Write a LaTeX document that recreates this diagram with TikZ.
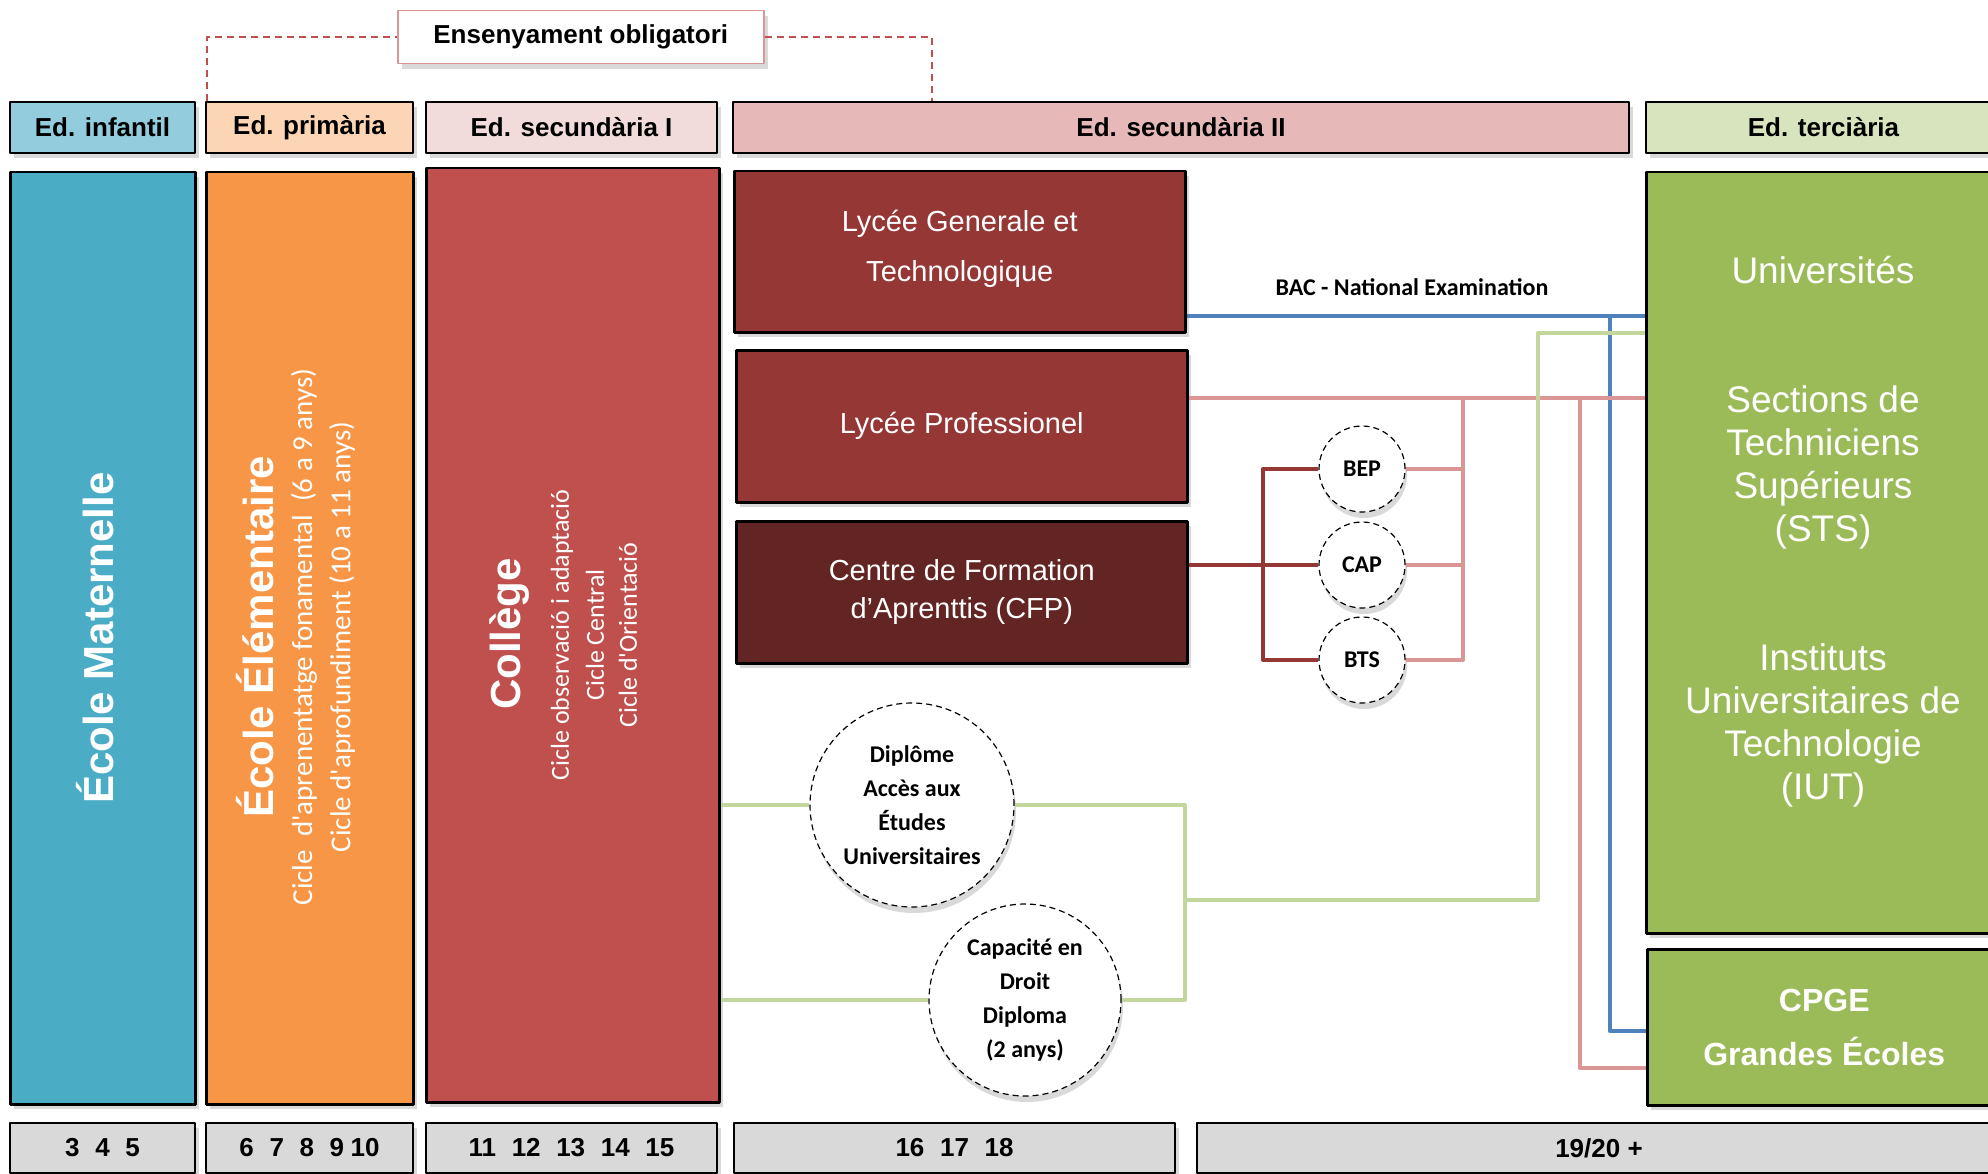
\documentclass[tikz,border=0pt]{standalone}
\usepackage{fontspec}
\setmainfont{Liberation Sans}
\newfontfamily\calibri{Carlito}
\usetikzlibrary{shadows}
\definecolor{infantA}{HTML}{93CDDD}
\definecolor{infantB}{HTML}{4BACC6}
\definecolor{primA}{HTML}{FCD5B5}
\definecolor{primB}{HTML}{F79646}
\definecolor{secA}{HTML}{F2DCDB}
\definecolor{secB}{HTML}{C0504D}
\definecolor{secIIA}{HTML}{E6B9B8}
\definecolor{secIIB}{HTML}{953735}
\definecolor{secIIC}{HTML}{632523}
\definecolor{tercA}{HTML}{D7E4BD}
\definecolor{tercB}{HTML}{9BBB59}
\definecolor{ageC}{HTML}{D9D9D9}
\definecolor{bacC}{HTML}{4F81BD}
\definecolor{proC}{HTML}{D99694}
\definecolor{accC}{HTML}{C3D69B}
\begin{document}
\begin{tikzpicture}[x=1pt,y=-1pt,line join=round,
	blk/.style={draw=black,line width=2.5pt,anchor=north west,inner sep=0pt,drop shadow={shadow xshift=4pt,shadow yshift=-5pt,opacity=.3}},
	hd/.style={blk,line width=2pt,minimum height=51pt,font=\fontsize{26}{30}\selectfont\bfseries},
	age/.style={hd,fill=ageC,minimum height=50pt},
	wt/.style={text=white,align=center,inner sep=0pt},
	vt/.style={wt,rotate=90},
	big/.style={vt,font=\fontsize{42}{48}\selectfont\bfseries},
	sub/.style={vt,font=\calibri\fontsize{29}{34}\selectfont},
	circ/.style={circle,draw=black,fill=white,line width=1.2pt,dash pattern=on 6pt off 4pt,inner sep=0pt,align=center,font=\calibri\bfseries\fontsize{24}{34}\selectfont,drop shadow={shadow xshift=2pt,shadow yshift=-6pt,opacity=.3}},
	ln/.style={line width=4pt}]
	\useasboundingbox (0,0) rectangle (1988,1174);
	\def\gp{\hspace{.6em}}
	\node[blk,draw=proC,line width=1.5pt,fill=white,minimum width=366pt,minimum height=53pt,font=\fontsize{26}{30}\selectfont\bfseries] (oblig) at (397,10) {Ensenyament obligatori};
	\node[hd,fill=infantA,minimum width=185pt] (hinf) at (9,101) {Ed. infantil};
	\node[hd,fill=primA,minimum width=207pt] (hprim) at (205,101) {Ed. primària};
	\node[hd,fill=secA,minimum width=291pt] (hsec1) at (425,101) {Ed. secundària I};
	\node[hd,fill=secIIA,minimum width=896pt] (hsec2) at (732,101) {Ed. secundària II};
	\node[hd,fill=tercA,minimum width=355pt] (hterc) at (1645,101) {Ed. terciària};
	\node[blk,fill=infantB,minimum width=185pt,minimum height=932pt] (mat) at (9,171) {};
	\node[blk,fill=primB,minimum width=207pt,minimum height=932pt] (elem) at (205,171) {};
	\node[blk,fill=secB,minimum width=293pt,minimum height=934pt] (college) at (425,167) {};
	\node[blk,fill=secIIB,minimum width=451pt,minimum height=161pt,wt,font=\fontsize{29}{50}\selectfont] (lgt) at (733,170) {Lycée Generale et\\Technologique\\[-38pt]};
	\node[blk,fill=secIIB,minimum width=451pt,minimum height=152pt,wt,font=\fontsize{29}{38}\selectfont] (lpro) at (735,349) {Lycée Professionel};
	\node[blk,fill=secIIC,minimum width=451pt,minimum height=142pt,wt,font=\fontsize{29}{38}\selectfont] (cfp) at (735,520) {Centre de Formation\\d’Aprenttis (CFP)};
	\node[blk,fill=tercB,minimum width=355pt,minimum height=761pt] (terc) at (1645,171) {};
	\node[blk,fill=tercB,minimum width=354pt,minimum height=156pt,wt,font=\fontsize{32}{54}\selectfont\bfseries] (cpge) at (1646,948) {CPGE\\Grandes Écoles};
	\node[big] (tmat) at (95,638) {École Maternelle};
	\node[big] (telem) at (255,637) {École Élémentaire};
	\node[sub] (telem1) at (304,637) {Cicle\ \ d'aprenentatge fonamental\ \ (6 a 9 anys)};
	\node[sub] (telem2) at (342,637) {Cicle d'aprofundiment (10 a 11 anys)};
	\node[big] (tcol) at (510,634) {Collège};
	\node[sub,font=\calibri\fontsize{26}{30}\selectfont] (tcol1) at (562,635) {Cicle observació i adaptació};
	\node[sub,font=\calibri\fontsize{26}{30}\selectfont] (tcol2) at (595,635) {Cicle Central};
	\node[sub,font=\calibri\fontsize{26}{30}\selectfont] (tcol3) at (628,635) {Cicle d'Orientació};
	\node[wt,font=\fontsize{37}{43}\selectfont] (tuniv) at (1823,270) {Universités};
	\node[wt,font=\fontsize{37}{43}\selectfont] (tsts) at (1823,467) {Sections de\\Techniciens\\Supérieurs\\(STS)};
	\node[wt,font=\fontsize{37}{43}\selectfont] (tiut) at (1823,725) {Instituts\\Universitaires de\\Technologie\\(IUT)};
	\node[age,minimum width=185pt] (a1) at (9,1122) {3\gp4\gp5};
	\node[age,minimum width=207pt] (a2) at (205,1122) {6\gp7\gp8\gp9\hspace{.25em}10};
	\node[age,minimum width=291pt] (a3) at (425,1122) {11\gp12\gp13\gp14\gp15};
	\node[age,minimum width=441pt] (a4) at (733,1122) {16\gp17\gp18};
	\node[age,minimum width=804pt] (a5) at (1196,1122) {19/20 +};
	\node[font=\calibri\bfseries\fontsize{24}{28}\selectfont] (bac) at (1412,287) {BAC - National Examination};
	\coordinate (oL) at (207,0);
	\coordinate (oR) at (932,0);
	\draw[secB,line width=1.8pt,dash pattern=on 7pt off 5pt] (hprim.north -| oL) |- (oblig.west);
	\draw[secB,line width=1.8pt,dash pattern=on 7pt off 5pt] (oblig.east) -| (hsec2.north -| oR);
	\draw[ln,bacC] (lgt.east) ++(0,64) coordinate (b0) -- (terc.west |- b0);
	\coordinate (bk) at (1610,0);
	\draw[ln,bacC] (b0 -| bk) |- ([yshift=-4pt]cpge.west);
	\draw[ln,proC] (lpro.east) ++(0,-28) coordinate (p0) -- (terc.west |- p0);
	\coordinate (pk) at (1580,0);
	\draw[ln,proC] (p0 -| pk) |- ([yshift=-41pt]cpge.west);
	\node[circ,minimum size=86pt] (bep) at (1362,469) {BEP};
	\node[circ,minimum size=86pt] (cap) at (1362,565) {CAP};
	\node[circ,minimum size=86pt] (bts) at (1362,660) {BTS};
	\node[circ,minimum size=204pt] (dip) at (912,805) {Diplôme\\Accès aux\\Études\\Universitaires};
	\node[circ,minimum size=192pt] (capd) at (1025,1000) {Capacité en\\Droit\\Diploma\\(2 anys)};
	\coordinate (pj) at (1463,0);
	\draw[ln,proC] (p0 -| pj) -- (bts.east -| pj) -- (bts.east);
	\draw[ln,proC] (bep.east) -- (bep.east -| pj);
	\draw[ln,proC] (cap.east) -- (cap.east -| pj);
	\coordinate (rk) at (1263,0);
	\draw[ln,secIIB] (cfp.east |- cap) -- (cap.west);
	\draw[ln,secIIB] (bep.west) -- (bep.west -| rk) -- (bts.west -| rk) -- (bts.west);
	\coordinate (gk) at (1185,900);
	\coordinate (gm) at (1538,333);
	\draw[ln,accC] (college.east |- dip) -- (dip.west);
	\draw[ln,accC] (college.east |- capd) -- (capd.west);
	\draw[ln,accC] (dip.east) -- (dip.east -| gk) -- (capd.east -| gk) -- (capd.east);
	\draw[ln,accC] (gk) -| (gm) -- (terc.west |- gm);
\end{tikzpicture}
\end{document}
